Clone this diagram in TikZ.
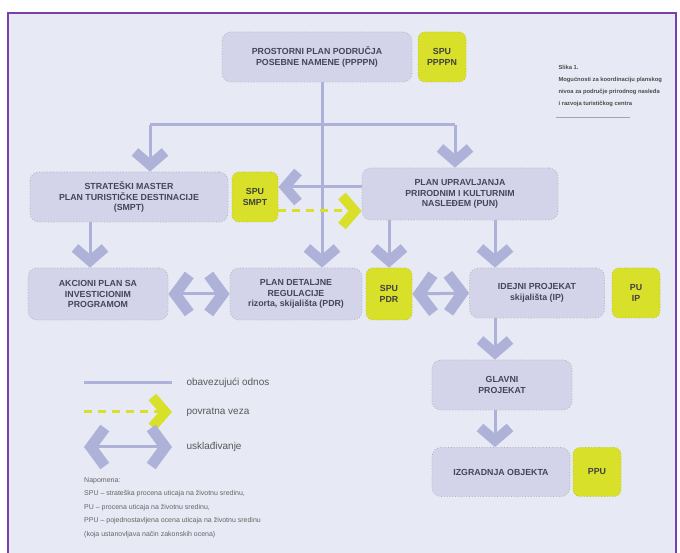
\documentclass[tikz,border=0pt]{standalone}
\usepackage{fontspec}
\setmainfont{Liberation Sans}
\usetikzlibrary{arrows.meta}

\definecolor{bg}{HTML}{E7E9F4}
\definecolor{boxfill}{HTML}{D3D4EA}
\definecolor{relcol}{HTML}{AEB1D8}
\definecolor{spuyel}{HTML}{D8E02A}
\definecolor{framecol}{HTML}{7A3FA8}
\definecolor{txt}{HTML}{45455A}

\begin{document}
\begin{tikzpicture}[x=1pt,y=1pt,
  box/.style={draw=gray!60, dotted, thick, fill=boxfill, rounded corners=9pt,
    align=center, text=txt, inner sep=2pt, minimum height=50pt,
    font=\fontsize{8.8}{10.5}\selectfont\bfseries},
  spu/.style={box, fill=spuyel, draw=spuyel!70!gray, text=black!75,
    minimum width=48pt, rounded corners=7pt},
  rel/.style={draw=relcol, line width=3pt},
  down/.style={rel, -{Straight Barb[sharp,length=13pt,width=30pt,line width=10pt]}},
  fb/.style={draw=spuyel, line width=3pt, dash pattern=on 8pt off 6pt,
    -{Straight Barb[sharp,length=13pt,width=30pt,line width=10pt]}},
  sync/.style={rel, {Straight Barb[sharp,length=14pt,width=38pt,line width=11pt]}-{Straight Barb[sharp,length=14pt,width=38pt,line width=11pt]}},
  legtxt/.style={text=black!65, font=\fontsize{10}{12}\selectfont, anchor=west}]

  % Background and frame
  \useasboundingbox (0,0) rectangle (680,553);
  \fill[white] (0,0) rectangle (680,553);
  \fill[bg] (8,0) rectangle (676,540);
  \draw[framecol, line width=2pt] (8,0) -- (8,540) -- (676,540) -- (676,0);

  % Caption
  \node[anchor=north west, align=left, text=black!70,
    font=\fontsize{5.8}{12}\selectfont\bfseries] (cap) at (555,491)
    {Slika 1.\\ Mogućnosti za koordinaciju planskog\\ nivoa za područje prirodnog nasleđa\\ i razvoja turističkog centra};
  \draw[gray!70, thin] (556,436) -- (630,436);

  % Plans
  \node[box, minimum width=190pt] (PPPPN) at (317,496)
    {PROSTORNI PLAN PODRUČJA\\ POSEBNE NAMENE (PPPPN)};
  \node[spu] (SPUp) at (442,496) {SPU\\ PPPPN};

  \node[box, minimum width=198pt] (SMPT) at (129,356)
    {STRATEŠKI MASTER\\ PLAN TURISTIČKE DESTINACIJE\\ (SMPT)};
  \node[spu, minimum width=46pt] (SPUs) at (255,356) {SPU\\ SMPT};

  \node[box, minimum width=196pt, minimum height=52pt] (PUN) at (460,359)
    {PLAN UPRAVLJANJA\\ PRIRODNIM I KULTURNIM\\ NASLEĐEM (PUN)};

  \node[box, minimum width=140pt, minimum height=52pt] (AP) at (98,259)
    {AKCIONI PLAN SA\\ INVESTICIONIM\\ PROGRAMOM};
  \node[box, minimum width=132pt, minimum height=52pt] (PDR) at (296,259)
    {PLAN DETALJNE\\ REGULACIJE\\ rizorta, skijališta (PDR)};
  \node[spu, minimum width=46pt, minimum height=52pt] (SPUd) at (389,259) {SPU\\ PDR};

  \node[box, minimum width=135pt] (IP) at (537,260)
    {IDEJNI PROJEKAT\\ skijališta (IP)};
  \node[spu] (PUi) at (636,260) {PU\\ IP};

  \node[box, minimum width=140pt] (GP) at (502,168) {GLAVNI\\ PROJEKAT};
  \node[box, minimum width=138pt, minimum height=49pt] (IO) at (501,81) {IZGRADNJA OBJEKTA};
  \node[spu, minimum height=49pt] (PPU) at (597,81) {PPU};

  % Binding relations
  \coordinate (top) at (322,428);
  \coordinate (tl) at (150,428);
  \coordinate (tr) at (455,428);
  \draw[rel] (PPPPN.south -| top) -- (top);
  \draw[rel] (tl) -- (tr);
  \draw[down] (tl) -- (tl |- SMPT.north);
  \draw[down] (tr) -- (tr |- PUN.north);
  \draw[down] (top) -- (top |- PDR.north);

  \coordinate (sm) at (90,0);
  \draw[down] (SMPT.south -| sm) -- (AP.north -| sm);
  \draw[down] (PUN.south -| SPUd) -- (SPUd.north);
  \coordinate (ip) at (495,0);
  \draw[down] (PUN.south -| ip) -- (IP.north -| ip);
  \draw[down] (IP.south -| ip) -- (GP.north -| ip);
  \draw[down] (GP.south -| ip) -- (IO.north -| ip);

  \draw[down] ([yshift=7pt]PUN.west) -- ([yshift=7pt]PUN.west -| SPUs.east);

  % Feedback
  \draw[fb] ([yshift=-14pt]SPUs.east) -- ([yshift=-14pt]SPUs.east -| PUN.west);

  % Coordination
  \draw[sync] (AP.east) -- (PDR.west);
  \draw[sync] (SPUd.east) -- (IP.west);

  % Legend
  \coordinate (l1a) at (84,170);  \coordinate (l1b) at (172,170);
  \coordinate (l2a) at (84,141);  \coordinate (l2b) at (172,141);
  \coordinate (l3a) at (84,106);  \coordinate (l3b) at (172,106);
  \draw[rel] (l1a) -- (l1b);
  \draw[fb] (l2a) -- (l2b);
  \draw[sync] (l3a) -- (l3b);
  \node[legtxt] (t1) at (183,170) {obavezujući odnos};
  \node[legtxt] (t2) at (183,141) {povratna veza};
  \node[legtxt] (t3) at (183,106) {usklađivanje};

  % Notes
  \node[anchor=north west, align=left, text=black!60, inner sep=0pt,
    font=\fontsize{7}{13.6}\selectfont] (note) at (84,76)
    {Napomena:\\ SPU -- strateška procena uticaja na životnu sredinu,\\
     PU -- procena uticaja na životnu sredinu,\\
     PPU -- pojednostavljena ocena uticaja na životnu sredinu\\
     (koja ustanovljava način zakonskih ocena)};
\end{tikzpicture}
\end{document}
